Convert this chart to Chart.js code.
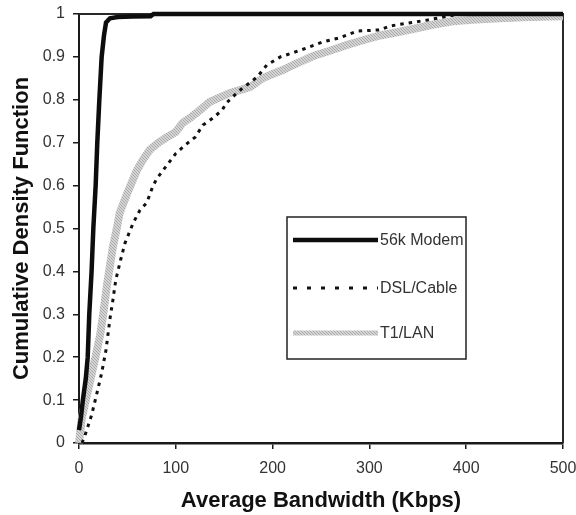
<!DOCTYPE html>
<html>
<head>
<meta charset="utf-8">
<title>Cumulative Density Function</title>
<script src="https://cdn.jsdelivr.net/npm/chart.js@4.4.1/dist/chart.umd.min.js"></script>
<style>
  html, body { margin: 0; padding: 0; background: #fff; }
  canvas { display: block; }
</style>
</head>
<body>
<canvas id="cdf-chart" width="576" height="515"></canvas>
<script>
// valores (x = Kbps, y = CDF)
const nomesSeries = ['56k Modem', 'DSL/Cable', 'T1/LAN'];

const modemX = [0, 2, 4, 7, 9, 10.6, 13, 14.8, 17.2, 18.9, 21, 23.4, 25.8, 27.9, 32, 40, 55, 74, 77, 500];
const modemY = [0.03, 0.06, 0.1, 0.15, 0.2, 0.3, 0.4, 0.5, 0.6, 0.7, 0.8, 0.9, 0.95, 0.98, 0.99, 0.993, 0.994, 0.995, 1, 1];

const dslX = [3, 5, 8, 13, 18.6, 23.4, 27.9, 32, 35, 38, 43, 47.5, 56, 63, 70, 76, 80, 87, 100, 110, 120, 128, 138, 148, 152, 165, 184, 194, 208, 228, 252, 270, 287, 311, 321, 360, 386, 390, 500];
const dslY = [0, 0.01, 0.03, 0.065, 0.117, 0.163, 0.217, 0.29, 0.333, 0.38, 0.427, 0.466, 0.513, 0.543, 0.56, 0.597, 0.615, 0.636, 0.675, 0.695, 0.713, 0.741, 0.757, 0.776, 0.792, 0.82, 0.853, 0.881, 0.9, 0.915, 0.935, 0.945, 0.96, 0.963, 0.972, 0.986, 0.997, 1, 1];

const lanX = [0, 3, 6, 9, 13, 17, 21.7, 25, 29, 35, 39, 42, 49.5, 55, 60, 66, 73, 82, 91, 100, 107, 116, 125, 135, 145, 156, 167, 177, 190, 200, 211, 225, 242, 260, 277, 295, 311, 330, 345, 365, 386, 410, 435, 465, 500];
const lanY = [0, 0.06, 0.09, 0.12, 0.16, 0.2, 0.25, 0.3, 0.37, 0.457, 0.5, 0.536, 0.58, 0.61, 0.636, 0.66, 0.683, 0.7, 0.713, 0.725, 0.746, 0.76, 0.776, 0.795, 0.805, 0.816, 0.823, 0.83, 0.851, 0.86, 0.87, 0.885, 0.902, 0.915, 0.928, 0.94, 0.95, 0.958, 0.965, 0.975, 0.983, 0.987, 0.99, 0.993, 0.995];

const rotulosX = ['0', '100', '200', '300', '400', '500'];
const rotulosY = ['0', '0.1', '0.2', '0.3', '0.4', '0.5', '0.6', '0.7', '0.8', '0.9', '1'];

function juntarPontos(xs, ys) {
    return xs.map((x, i) => ({ x, y: ys[i] }));
}

const canvas = document.getElementById('cdf-chart');
const ctx = canvas.getContext('2d');

// textura cinza da linha T1/LAN
function padraoCinza() {
    const c = document.createElement('canvas');
    c.width = 3;
    c.height = 3;
    const g = c.getContext('2d');
    g.fillStyle = '#d4d4d4';
    g.fillRect(0, 0, 3, 3);
    g.fillStyle = '#aaaaaa';
    for (let i = 0; i < 3; i++) g.fillRect(i, i, 1, 1);
    return ctx.createPattern(c, 'repeat');
}
const cinza = padraoCinza();

// moldura de cima e da direita
const moldura = {
    id: 'moldura',
    beforeDatasetsDraw(chart) {
        const { ctx, chartArea } = chart;
        ctx.save();
        ctx.strokeStyle = '#2a2a2a';
        ctx.lineWidth = 2;
        ctx.beginPath();
        ctx.moveTo(chartArea.left, chartArea.top);
        ctx.lineTo(chartArea.right, chartArea.top);
        ctx.lineTo(chartArea.right, chartArea.bottom);
        ctx.stroke();
        ctx.restore();
    }
};

// legenda dentro da area do grafico
const legendaCaixa = {
    id: 'legendaCaixa',
    afterDatasetsDraw(chart) {
        const ctx = chart.ctx;
        const x0 = 287, y0 = 217, w = 179, h = 142;
        const linhasY = [240, 288, 333];
        ctx.save();
        ctx.fillStyle = '#fff';
        ctx.fillRect(x0, y0, w, h);
        ctx.strokeStyle = '#222';
        ctx.lineWidth = 1.5;
        ctx.strokeRect(x0, y0, w, h);
        chart.data.datasets.forEach((ds, i) => {
            const y = linhasY[i];
            ctx.beginPath();
            ctx.strokeStyle = ds.borderColor;
            ctx.lineWidth = i === 2 ? 5 : ds.borderWidth;
            ctx.setLineDash(i === 1 ? [4, 10] : []);
            ctx.moveTo(293, y);
            ctx.lineTo(378, y);
            ctx.stroke();
            ctx.setLineDash([]);
            ctx.fillStyle = '#333';
            ctx.font = '16px "Liberation Sans", Arial, sans-serif';
            ctx.textBaseline = 'middle';
            ctx.fillText(ds.label, 380, y + 1);
        });
        ctx.restore();
    }
};

new Chart(ctx, {
    type: 'line',
    data: {
        datasets: [
            {
                label: nomesSeries[0],
                data: juntarPontos(modemX, modemY),
                borderColor: '#0d0d0d',
                borderWidth: 4.5
            },
            {
                label: nomesSeries[1],
                data: juntarPontos(dslX, dslY),
                borderColor: '#111',
                borderWidth: 3,
                borderDash: [3.5, 5]
            },
            {
                label: nomesSeries[2],
                data: juntarPontos(lanX, lanY),
                borderColor: cinza,
                borderWidth: 8
            }
        ]
    },
    options: {
        responsive: false,
        animation: false,
        devicePixelRatio: 1,
        clip: 6,
        elements: {
            point: { radius: 0 },
            line: { tension: 0, fill: false }
        },
        layout: { padding: { left: 0, right: 13, top: 14, bottom: 0 } },
        plugins: {
            legend: { display: false },
            tooltip: { enabled: false }
        },
        scales: {
            x: {
                type: 'linear',
                min: 0,
                max: 500,
                afterFit(scale) {
                    scale.height = 72;
                    scale.paddingLeft = 0;
                    scale.paddingRight = 0;
                },
                border: { color: '#1a1a1a', width: 2.5 },
                grid: { drawOnChartArea: false, drawTicks: true, tickLength: 6, color: '#1a1a1a', lineWidth: 1.5 },
                ticks: {
                    stepSize: 100,
                    padding: 10,
                    color: '#333',
                    font: { family: '"Liberation Sans", Arial, sans-serif', size: 16 },
                    maxRotation: 0,
                    callback: (value, index) => rotulosX[index]
                },
                title: {
                    display: true,
                    text: 'Average Bandwidth (Kbps)',
                    color: '#111',
                    font: { family: '"Liberation Sans", Arial, sans-serif', size: 22, weight: 'bold' },
                    padding: { top: 0, bottom: 1 }
                }
            },
            y: {
                type: 'linear',
                min: 0,
                max: 1,
                afterFit(scale) {
                    scale.width = 79;
                    scale.paddingTop = 0;
                    scale.paddingBottom = 0;
                },
                border: { color: '#1a1a1a', width: 2 },
                grid: { drawOnChartArea: false, drawTicks: true, tickLength: 6, color: '#1a1a1a', lineWidth: 1.5 },
                ticks: {
                    stepSize: 0.1,
                    padding: 8,
                    color: '#333',
                    font: { family: '"Liberation Sans", Arial, sans-serif', size: 16 },
                    callback: (value, index) => rotulosY[index]
                },
                title: {
                    display: true,
                    text: 'Cumulative Density Function',
                    color: '#111',
                    font: { family: '"Liberation Sans", Arial, sans-serif', size: 22, weight: 'bold' },
                    padding: { top: 9, bottom: 0 }
                }
            }
        }
    },
    plugins: [moldura, legendaCaixa]
});
</script>
</body>
</html>
